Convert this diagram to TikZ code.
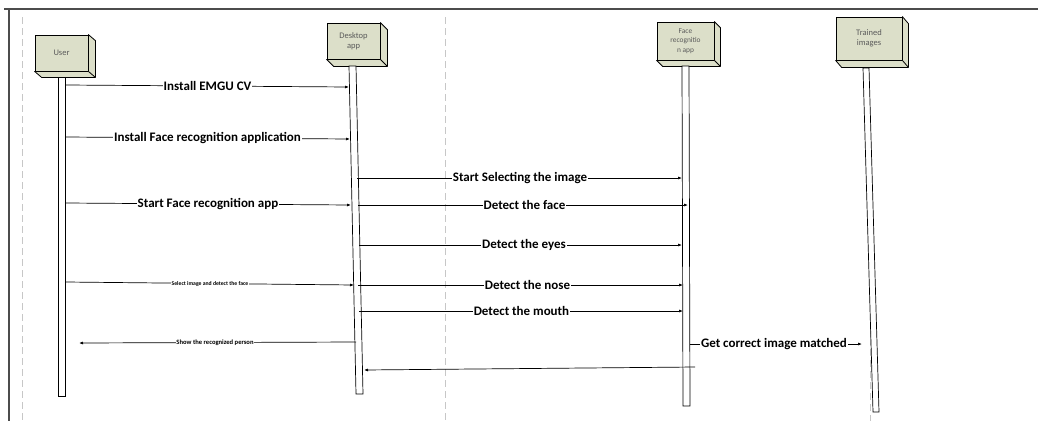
\documentclass[tikz,border=0pt]{standalone}
\usepackage{fontspec}
\setmainfont{Carlito}
\usetikzlibrary{arrows.meta,calc}

\definecolor{actorfill}{HTML}{DCDFC9}
\definecolor{actortext}{HTML}{5A5A5A}

% side and bottom faces of a 3D actor box
\newcommand\boxdepth[3]{%
  \draw[line width=0.8pt, fill=actorfill, line join=round]
    (#1.north east) -- ++(#2,#3) -- ($(#1.south east)+(#2,#3)$)
    -- ($(#1.south west)+(#2,#3)$) -- (#1.south west) -- (#1.south east) -- cycle;
  \draw[line width=0.8pt] (#1.south east) -- ++(#2,#3);
}

\begin{document}
\begin{tikzpicture}[x=1pt,y=-1pt,
  actor/.style={draw=black, line width=0.8pt, fill=actorfill, inner sep=1pt,
    align=center, font=\fontsize{8.5}{10.5}\selectfont, text=actortext},
  life/.style={draw=black, line width=0.7pt, fill=white},
  msg/.style={line width=0.7pt, -{Latex[length=4pt,width=3pt]}},
  lbl/.style={fill=white, inner sep=0.8pt, font=\bfseries\fontsize{13}{15}\selectfont},
  tiny/.style={fill=white, inner sep=0.5pt, font=\bfseries\fontsize{5.7}{6}\selectfont},
  guide/.style={draw=black!22, dash pattern=on 7pt off 4pt, line width=0.9pt},
]
\useasboundingbox (0,0) rectangle (1038,421);

% page frame and column guides
\draw[guide] (22,17) -- (22,421);
\draw[guide] (445,17) -- (445,421);
\draw[guide] (870,250) -- (870,421);
\draw[black!70, line width=1.4pt] (4,9) -- (1038,9);
\draw[black!70, line width=1.4pt] (9,9) -- (9,421);

% actors
\node[actor, minimum width=53pt, minimum height=36pt] (user) at (61.5,53) {User};
\boxdepth{user}{7}{6}
\node[actor, minimum width=53pt, minimum height=36pt] (desk) at (353.5,41) {Desktop\\app};
\boxdepth{desk}{7}{7}
\node[actor, minimum width=57pt, minimum height=38pt,
      font=\fontsize{7.4}{9.6}\selectfont] (face) at (685.5,41) {Face\\recognitio\\n app};
\boxdepth{face}{6}{6}
\node[actor, minimum width=66pt, minimum height=43pt] (train) at (869,38.5) {Trained\\images};
\boxdepth{train}{6}{7}

% lifelines
\draw[life] (58,77) -- (65,77) -- (65,396) -- (58,396) -- cycle;
\draw[life] (349,66) -- (356,66) -- (363,394) -- (356,394) -- cycle;
\draw[life] (682,66) -- (689,66) -- (690,406) -- (683,406) -- cycle;
\draw[life] (863,68) -- (869,68) -- (879,412) -- (873,412) -- cycle;

% message end points
\coordinate (m1s) at (66,85);   \coordinate (m1e) at (349,87);
\coordinate (m2s) at (66,137);  \coordinate (m2e) at (350,139);
\coordinate (m3s) at (357,178); \coordinate (m3e) at (682,178);
\coordinate (m4s) at (66,203);  \coordinate (m4e) at (351,205);
\coordinate (m5s) at (358,205); \coordinate (m5e) at (688,205);
\coordinate (m6s) at (359,245); \coordinate (m6e) at (682,245);
\coordinate (m7s) at (66,282);  \coordinate (m7e) at (354,285);
\coordinate (m8s) at (358,285); \coordinate (m8e) at (683,285);
\coordinate (m9s) at (359,311); \coordinate (m9e) at (683,311);
\coordinate (m10s) at (356,342); \coordinate (m10e) at (79,343);
\coordinate (m11s) at (690,344); \coordinate (m11e) at (862,344);
\coordinate (m12s) at (695,367); \coordinate (m12e) at (364,370);

% messages
\draw[msg] (m1s) -- (m1e);
\node[lbl] (t1) at (207.5,86) {Install EMGU CV};
\draw[msg] (m2s) -- (m2e);
\node[lbl] (t2) at (207.5,138) {Install Face recognition application};
\draw[msg] (m3s) -- (m3e);
\node[lbl] (t3) at (520,178) {Start Selecting the image};
\draw[msg] (m4s) -- (m4e);
\node[lbl] (t4) at (208,204) {Start Face recognition app};
\draw[msg] (m5s) -- (m5e);
\node[lbl] (t5) at (524.5,205) {Detect the face};
\draw[msg] (m6s) -- (m6e);
\node[lbl] (t6) at (524,245) {Detect the eyes};
\draw[msg] (m7s) -- (m7e);
\node[tiny] (t7) at (210,283.5) {Select image and detect the face};
\draw[msg] (m8s) -- (m8e);
\node[lbl] (t8) at (527.5,285) {Detect the nose};
\draw[msg] (m9s) -- (m9e);
\node[lbl] (t9) at (521.5,311) {Detect the mouth};
\draw[msg] (m10s) -- (m10e);
\node[tiny, font=\bfseries\fontsize{6.6}{7}\selectfont] (t10) at (215,342.5) {Show the recognized person};
\draw[msg] (m11s) -- (m11e);
\node[lbl] (t11) at (774,344) {Get correct image matched};
\draw[msg] (m12s) -- (m12e);
\end{tikzpicture}
\end{document}
